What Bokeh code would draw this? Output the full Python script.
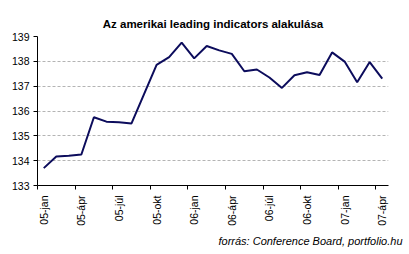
import math
from bokeh.plotting import figure
from bokeh.models import Range1d, FixedTicker, Title, ColumnDataSource
from bokeh.embed import file_html
from bokeh.resources import INLINE

title_text = "Az amerikai leading indicators alakulása"
source_text = "forrás: Conference Board, portfolio.hu"

# monthly values, 2005 jan .. 2007 apr
values = [133.70, 134.17, 134.20, 134.25, 135.75, 135.57, 135.55, 135.50,
          136.68, 137.86, 138.17, 138.75, 138.12, 138.62, 138.44, 138.30,
          137.60, 137.67, 137.35, 136.93, 137.44, 137.56, 137.45, 138.36,
          137.99, 137.16, 137.97, 137.30]
tick_labels = ["05-jan", "05-ápr", "05-júl", "05-okt", "06-jan",
               "06-ápr", "06-júl", "06-okt", "07-jan", "07-ápr"]
y_ticks = [133, 134, 135, 136, 137, 138, 139]

idx = list(range(len(values)))
tick_idx = idx[::3]

FONT = "Liberation Sans"

p = figure(width=409, height=254, output_backend="svg", toolbar_location=None,
           x_range=Range1d(-0.5, len(values) - 0.5),
           y_range=Range1d(y_ticks[0], y_ticks[-1]),
           min_border_left=37, min_border_right=21,
           min_border_top=36, min_border_bottom=69)
p.outline_line_color = None
p.background_fill_color = "white"
p.border_fill_color = "white"

p.title.text = title_text
p.title.align = "center"
p.title.text_font = FONT
p.title.text_font_style = "bold"
p.title.text_font_size = "11.5px"
p.title.text_color = "black"
p.title.standoff = 13

src = ColumnDataSource(dict(x=idx, y=values))
p.line("x", "y", source=src, line_color="#0c0c5c", line_width=2)

# x axis
p.xaxis.ticker = FixedTicker(ticks=tick_idx, minor_ticks=[i - 0.5 for i in tick_idx])
p.xaxis.major_label_overrides = {i: lab for i, lab in zip(tick_idx, tick_labels)}
p.xaxis.major_label_orientation = math.pi / 2
p.xaxis.major_tick_out = 0
p.xaxis.major_tick_in = 0
p.xaxis.minor_tick_out = 4
p.xaxis.minor_tick_in = 0
p.xaxis.minor_tick_line_color = "black"
p.xaxis.axis_line_color = "black"
p.xaxis.major_label_text_font = FONT
p.xaxis.major_label_text_font_size = "10.5px"
p.xaxis.major_label_text_color = "black"
p.xaxis.major_label_standoff = 6

# y axis
p.yaxis.ticker = FixedTicker(ticks=y_ticks)
p.yaxis.major_tick_out = 4
p.yaxis.major_tick_in = 0
p.yaxis.minor_tick_line_color = None
p.yaxis.axis_line_color = "black"
p.yaxis.major_tick_line_color = "black"
p.yaxis.major_label_text_font = FONT
p.yaxis.major_label_text_font_size = "10.5px"
p.yaxis.major_label_text_color = "black"
p.yaxis.major_label_standoff = 4

p.xgrid.visible = False
p.ygrid.ticker = FixedTicker(ticks=y_ticks[1:])
p.ygrid.grid_line_color = "#b4b4b4"
p.ygrid.grid_line_dash = "3 2"

src_title = Title(text=source_text, align="right", text_font=FONT,
                  text_font_style="italic", text_font_size="11px",
                  text_color="black", standoff=8, offset=-14)
p.add_layout(src_title, "below")

open("out.html", "w").write(file_html(p, INLINE))
